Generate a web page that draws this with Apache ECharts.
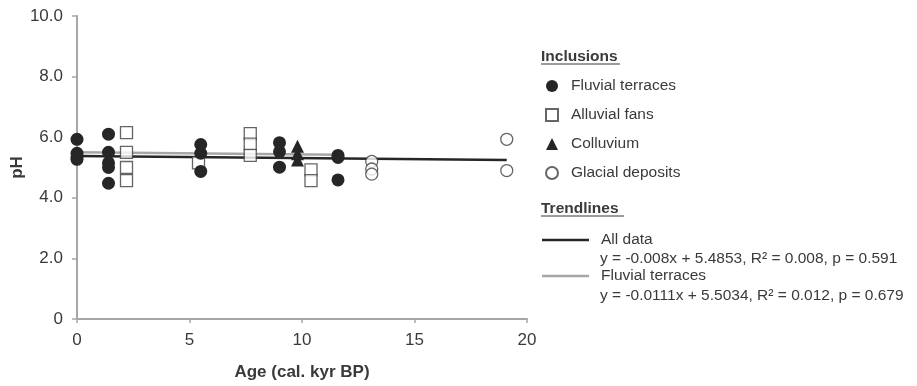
<!DOCTYPE html>
<html>
<head>
<meta charset="utf-8">
<title>pH vs age</title>
<script src="https://cdn.jsdelivr.net/npm/echarts@6/dist/echarts.min.js"></script>
<style>
  html, body { margin: 0; padding: 0; background: #fff; }
  #main { width: 917px; height: 386px; }
</style>
</head>
<body>
<div id="main"></div>
<script>
// data: [age (cal. kyr BP), pH]
var fluvialTerraces = [
    [0, 5.93], [0, 5.47], [0, 5.35], [0, 5.27],
    [1.4, 6.1], [1.4, 5.5], [1.4, 5.15], [1.4, 5.0], [1.4, 4.48],
    [5.5, 5.76], [5.5, 5.47], [5.5, 4.87],
    [9.0, 5.82], [9.0, 5.52], [9.0, 5.01],
    [11.6, 5.4], [11.6, 5.33], [11.6, 4.59]
];
var alluvialFans = [
    [2.2, 6.15], [2.2, 5.5], [2.2, 5.0], [2.2, 4.57],
    [5.4, 5.15],
    [7.7, 6.12], [7.7, 5.77], [7.7, 5.4],
    [10.4, 4.92], [10.4, 4.57]
];
var colluvium = [
    [9.8, 5.7], [9.8, 5.45], [9.8, 5.25]
];
var glacialDeposits = [
    [13.1, 5.2], [13.1, 4.95], [13.1, 4.78],
    [19.1, 5.93], [19.1, 4.9]
];
// trendlines as drawn
var trendAll = [[0, 5.38], [19.1, 5.25]];
var trendFluvial = [[0, 5.5], [11.6, 5.42]];
// trailing space keeps the trend name apart from the scatter series
var trendNames = ['All data', 'Fluvial terraces '];
var trendEquations = [
    'y = -0.008x + 5.4853, R\u00b2 = 0.008, p = 0.591',
    'y = -0.0111x + 5.5034, R\u00b2 = 0.012, p = 0.679'
];
var seriesNames = ['Fluvial terraces', 'Alluvial fans', 'Colluvium', 'Glacial deposits'];

var myChart = echarts.init(document.getElementById('main'));

var axisGray = '#a6a6a6';
var textColor = '#3a3a3a';
var dark = '#262626';
var fontFamily = '"Liberation Sans", Arial, sans-serif';

var openStyle = { color: '#fff', borderColor: '#3f3f3f', borderWidth: 1.3 };

var option = {
    backgroundColor: '#fff',
    animation: false,
    textStyle: { fontFamily: fontFamily },
    grid: { left: 77, right: 390, top: 16, bottom: 67, outerBoundsMode: 'none' },
    xAxis: {
        type: 'value',
        min: 0, max: 20, interval: 5,
        name: 'Age (cal. kyr BP)',
        nameLocation: 'middle',
        nameGap: 45,
        nameTextStyle: { fontSize: 17, fontWeight: 'bold', color: textColor },
        axisLine: { show: true, lineStyle: { color: axisGray, width: 2 } },
        axisTick: { show: true, length: 4, lineStyle: { color: axisGray, width: 1.5 } },
        axisLabel: { fontSize: 17, color: textColor, margin: 13 },
        splitLine: { show: false }
    },
    yAxis: {
        type: 'value',
        min: 0, max: 10, interval: 2,
        name: 'pH',
        nameLocation: 'middle',
        nameGap: 42,
        nameTextStyle: { fontSize: 17, fontWeight: 'bold', color: textColor },
        axisLine: { show: true, lineStyle: { color: axisGray, width: 2 } },
        axisTick: { show: true, length: 5, lineStyle: { color: axisGray, width: 1.5 } },
        axisLabel: {
            fontSize: 17, color: textColor, margin: 14,
            formatter: function (v) { return v === 0 ? '0' : v.toFixed(1); }
        },
        splitLine: { show: false }
    },
    legend: [
        {
            data: seriesNames,
            orient: 'vertical',
            left: 545, top: 77,
            padding: 0,
            itemWidth: 12, itemHeight: 12,
            itemGap: 11,
            selectedMode: false,
            textStyle: { fontSize: 15.5, color: textColor, lineHeight: 18, padding: [0, 0, 0, 8] }
        },
        {
            data: trendNames.map(function (n) { return { name: n, icon: 'rect' }; }),
            orient: 'vertical',
            left: 542, top: 231,
            padding: 0,
            itemWidth: 47, itemHeight: 2.5,
            itemGap: 18,
            selectedMode: false,
            textStyle: { fontSize: 15.5, color: textColor, lineHeight: 18, padding: [0, 0, 0, 7] }
        }
    ],
    graphic: [
        { type: 'text', left: 541, top: 49, style: { text: 'Inclusions', font: 'bold 15.5px ' + fontFamily, fill: textColor } },
        { type: 'line', shape: { x1: 541, y1: 64, x2: 620, y2: 64 }, style: { stroke: textColor, lineWidth: 1.2 } },
        { type: 'text', left: 541, top: 201, style: { text: 'Trendlines', font: 'bold 15.5px ' + fontFamily, fill: textColor } },
        { type: 'line', shape: { x1: 541, y1: 216, x2: 624, y2: 216 }, style: { stroke: textColor, lineWidth: 1.2 } },
        { type: 'text', left: 600, top: 251, style: { text: trendEquations[0], font: '15.5px ' + fontFamily, fill: textColor } },
        { type: 'text', left: 600, top: 288, style: { text: trendEquations[1], font: '15.5px ' + fontFamily, fill: textColor } }
    ],
    series: [
        {
            name: trendNames[0], type: 'line', data: trendAll,
            symbol: 'none', z: 2,
            lineStyle: { color: dark, width: 2.5 },
            itemStyle: { color: dark }
        },
        {
            name: trendNames[1], type: 'line', data: trendFluvial,
            symbol: 'none', z: 1,
            lineStyle: { color: axisGray, width: 2.5 },
            itemStyle: { color: axisGray }
        },
        {
            name: 'Fluvial terraces', type: 'scatter', data: fluvialTerraces,
            symbol: 'circle', symbolSize: 13, z: 5,
            itemStyle: { color: dark, opacity: 1 }
        },
        {
            name: 'Alluvial fans', type: 'scatter', data: alluvialFans,
            symbol: 'rect', symbolSize: 12, z: 4,
            itemStyle: openStyle
        },
        {
            name: 'Colluvium', type: 'scatter', data: colluvium,
            symbol: 'triangle', symbolSize: 13, z: 5,
            itemStyle: { color: dark, opacity: 1 }
        },
        {
            name: 'Glacial deposits', type: 'scatter', data: glacialDeposits,
            symbol: 'circle', symbolSize: 12, z: 4,
            itemStyle: openStyle
        }
    ]
};

myChart.setOption(option);
</script>
</body>
</html>
